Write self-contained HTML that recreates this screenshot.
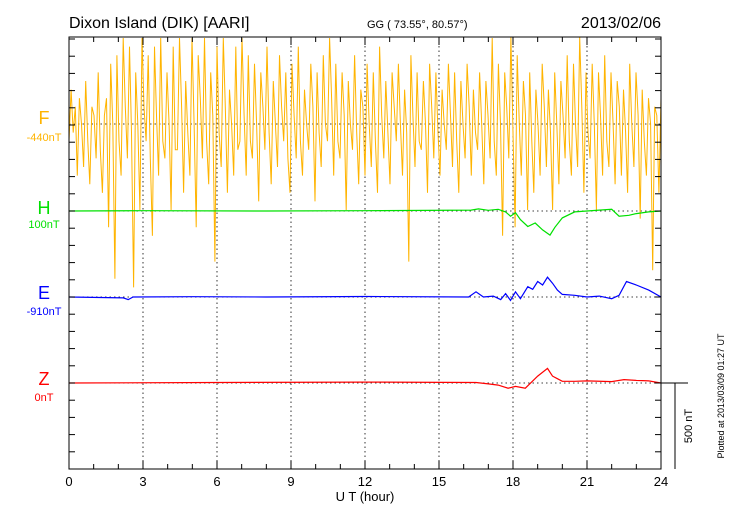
<!DOCTYPE html>
<html><head><meta charset="utf-8"><style>
body{margin:0;background:#fff}
svg{display:block;font-family:"Liberation Sans",sans-serif}
</style></head><body>
<svg id="c" width="730" height="520" viewBox="0 0 730 520">
<text x="69" y="28" font-size="16">Dixon Island (DIK)  [AARI]</text>
<text x="367" y="28" font-size="11">GG ( 73.55°,  80.57°)</text>
<text x="661" y="28" font-size="16" text-anchor="end">2013/02/06</text>
<text x="44" y="124" font-size="18" fill="#ffb400" text-anchor="middle">F</text>
<text x="44" y="141" font-size="11" fill="#ffb400" text-anchor="middle">-440nT</text>
<text x="44" y="214" font-size="18" fill="#00e000" text-anchor="middle">H</text>
<text x="44" y="228" font-size="11" fill="#00e000" text-anchor="middle">100nT</text>
<text x="44" y="299" font-size="18" fill="#0000ff" text-anchor="middle">E</text>
<text x="44" y="315" font-size="11" fill="#0000ff" text-anchor="middle">-910nT</text>
<text x="44" y="385" font-size="18" fill="#ff0000" text-anchor="middle">Z</text>
<text x="44" y="401" font-size="11" fill="#ff0000" text-anchor="middle">0nT</text>
<text x="365" y="501" font-size="13" text-anchor="middle">U T (hour)</text>
<text transform="translate(692,426) rotate(-90)" font-size="11" text-anchor="middle">500 nT</text>
<text transform="translate(724,396) rotate(-90)" font-size="9" text-anchor="middle">Plotted at 2013/03/09 01:27 UT</text>
<g id="g"></g>
</svg>
<script>
const tickHours=[0,3,6,9,12,15,18,21,24];
const baselines=[124,211,297,383];
const fVals=[
-100,200,-50,100,-300,150,0,-250,250,-100,-350,100,50,-200,300,-150,-400,50,150,-600,350,0,-900,400,-100,-300,500,100,-200,450,-50,-950,300,0,-500,500,100,-100,400,-200,-650,450,50,-300,500,-100,-200,300,0,-500,450,-150,-150,500,100,-400,250,-50,-300,500,0,-600,400,150,-200,500,-100,-350,300,50,-800,450,-50,-250,500,100,-400,200,0,-300,450,-150,-100,500,50,-300,400,-100,-200,350,0,-450,300,100,-150,450,-50,-350,250,0,-250,400,100,-100,300,-200,-400,350,50,-200,450,-100,-300,200,0,-150,350,100,-450,300,-50,-250,400,0,-100,500,150,-300,350,-100,-200,300,50,-500,250,0,-150,400,-50,-350,200,100,-300,350,0,-250,300,-100,-400,450,50,-200,250,-50,-350,300,100,-100,350,0,-300,200,-50,-800,400,50,-250,300,-100,-150,250,0,-400,350,100,-200,300,-50,-300,200,0,-150,350,50,-250,300,-100,-400,250,0,-200,350,100,-300,200,-50,-150,300,0,-350,250,50,-200,500,-100,-300,350,0,-650,300,100,-200,520,-50,-600,400,0,-300,250,50,-500,300,-100,-400,200,0,-300,350,100,-250,200,-50,-500,300,0,-350,250,50,-200,400,-100,-300,350,0,-250,510,100,-400,300,-50,-200,350,0,-500,300,50,-300,400,-100,-250,300,0,-350,250,100,-300,200,-50,-400,350,0,-250,300,50,-550,200,-100,-300,150,0,-850,100,50,-400,150
];
const hTimes=[0,3,8,12,16.3,16.6,17,17.4,17.7,17.9,18.1,18.3,18.6,18.9,19.2,19.5,19.7,20,20.5,21,21.5,22,22.3,22.7,23,23.5,24];
const hVals=[0,2,0,2,5,12,4,10,-5,-30,-10,-50,-90,-70,-110,-140,-95,-40,-5,0,5,10,-30,-25,-15,-5,0];
const eTimes=[0,2.2,2.4,2.6,5,8,12,16.2,16.5,16.8,17.2,17.5,17.7,17.9,18.1,18.3,18.6,18.8,19,19.2,19.4,19.6,19.8,20,20.5,21,21.5,22,22.3,22.6,23,23.5,24];
const eVals=[0,-5,-15,0,2,0,3,0,30,0,5,-15,20,-20,30,-10,60,45,90,70,115,80,40,15,10,0,5,-10,10,90,70,40,0];
const zTimes=[0,6,12,16.5,17,17.4,17.8,18.1,18.5,19,19.4,19.6,19.8,20,20.5,21,22,22.5,23,23.5,24];
const zVals=[0,3,5,3,-5,-12,-30,-20,-30,40,85,40,25,10,10,12,8,20,15,12,0];
const fColor='#ffb400', hColor='#00e000', eColor='#0000ff', zColor='#ff0000';
const L=69,R=661,T=37,B=469,K=86/500;
const xs=h=>L+h*(R-L)/24;
const yv=(base,v)=>Math.max(T,Math.min(B,base-v*K));
const NS='http://www.w3.org/2000/svg';
const g=document.getElementById('g');
function mk(t,a){const e=document.createElementNS(NS,t);for(const k in a)e.setAttribute(k,a[k]);g.appendChild(e);return e;}
tickHours.slice(1,-1).forEach(h=>{
 const e=mk('line',{x1:xs(h),x2:xs(h),y1:T,y2:B,stroke:'#000','stroke-width':0.8,'stroke-dasharray':'1.5,3'});
 
 
});
baselines.forEach((b,i)=>{
 const e=mk('line',{x1:L,x2:R,y1:b,y2:b,stroke:'#000','stroke-width':0.8,'stroke-dasharray':'1.5,3'});
 
 
});
function series(times,vals,base,col,name,w){
 const d=vals.map((v,i)=>(i?'L':'M')+xs(times[i]).toFixed(1)+','+yv(base,v).toFixed(1)).join('');
 const e=mk('path',{d:d,fill:'none',stroke:col,'stroke-width':w});
 
 
}
const fTimes=fVals.map((v,i)=>i*24/(fVals.length-1));
series(fTimes,fVals,124,fColor,'f-series',1);
series(hTimes,hVals,211,hColor,'h-series',1.2);
series(eTimes,eVals,297,eColor,'e-series',1.2);
series(zTimes,zVals,383,zColor,'z-series',1.2);
const fr=mk('rect',{x:L,y:T,width:R-L,height:B-T,fill:'none',stroke:'#000','stroke-width':1});


for(let h=0;h<=24;h++){
 const len=h%3==0?8:5;
 mk('line',{x1:xs(h),x2:xs(h),y1:T,y2:T+len,stroke:'#000'});
 mk('line',{x1:xs(h),x2:xs(h),y1:B,y2:B-len,stroke:'#000'});
}
for(let y=B;y>=T;y-=86/5){
 mk('line',{x1:L,x2:L+6,y1:y,y2:y,stroke:'#000'});
 mk('line',{x1:R,x2:R-6,y1:y,y2:y,stroke:'#000'});
}
tickHours.forEach(h=>{
 const t=mk('text',{x:xs(h),y:486,'font-size':13,'text-anchor':'middle'});
 t.textContent=h;
 
 
});
const sb=mk('path',{d:`M${R},383H688M675,383V469`,stroke:'#000',fill:'none','stroke-width':1});


</script>
</body></html>
